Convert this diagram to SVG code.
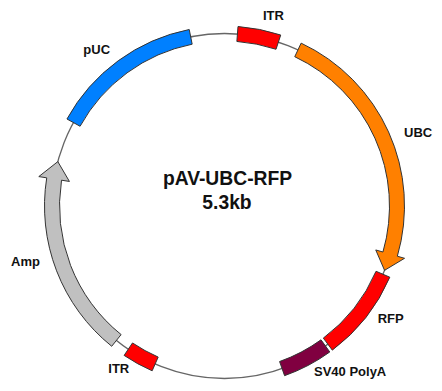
<svg xmlns="http://www.w3.org/2000/svg" width="442" height="391" viewBox="0 0 442 391">
<style>
.seg{stroke:#333;stroke-width:1;stroke-linejoin:miter}
.lbl{font-family:"Liberation Sans",Arial,sans-serif;font-weight:bold;font-size:13px;fill:#111}
.title{font-family:"Liberation Sans",Arial,sans-serif;font-weight:bold;font-size:19.3px;fill:#111;text-anchor:middle}
</style>
<rect width="442" height="391" fill="#fff"/>
<g id="connectors">
<circle cx="224.5" cy="206" r="172.5" fill="none" stroke="#666" stroke-width="1.3"/>
</g>
<g id="title">
<text class="title" x="227.5" y="184.5">pAV-UBC-RFP</text>
<text class="title" x="227" y="208.5">5.3kb</text>
</g>
<g id="ITR-top">
<path class="seg" fill="#FF0000" d="M238.0,26.51 A180,180 0 0 1 280.72,35.0 L276.04,49.25 A165,165 0 0 0 236.87,41.46 Z"/>
<text class="lbl" x="263" y="20">ITR</text>
</g>
<g id="UBC">
<path class="seg" fill="#FF8000" d="M301.14,43.13 A180,180 0 0 1 397.35,256.22 L404.55,258.31 L384.55,270.34 L375.75,249.94 L382.95,252.03 A165,165 0 0 0 294.75,56.70 Z"/>
<text class="lbl" x="404" y="137.3">UBC</text>
</g>
<g id="RFP">
<path class="seg" fill="#FF0000" d="M389.82,277.20 A180,180 0 0 1 332.32,350.13 L323.34,338.12 A165,165 0 0 0 376.04,271.27 Z"/>
<text class="lbl" x="377.7" y="323.3">RFP</text>
</g>
<g id="SV40-PolyA">
<path class="seg" fill="#800040" d="M329.79,351.99 A180,180 0 0 1 284.59,375.68 L279.58,361.54 A165,165 0 0 0 321.02,339.82 Z"/>
<text class="lbl" x="314" y="376">SV40 PolyA</text>
</g>
<g id="ITR-bottom">
<path class="seg" fill="#FF0000" d="M152.15,370.82 A180,180 0 0 1 124.12,355.41 L132.49,342.96 A165,165 0 0 0 158.18,357.08 Z"/>
<text class="lbl" x="108.3" y="372.5">ITR</text>
</g>
<g id="Amp">
<path class="seg" fill="#C0C0C0" d="M111.71,346.28 A180,180 0 0 1 46.72,177.84 L38.81,176.59 L57.80,161.64 L69.43,181.44 L61.53,180.19 A165,165 0 0 0 121.11,334.59 Z"/>
<text class="lbl" x="11" y="266">Amp</text>
</g>
<g id="pUC">
<path class="seg" fill="#0080FF" d="M66.94,119.01 A180,180 0 0 1 189.23,29.49 L192.17,44.20 A165,165 0 0 0 80.07,126.26 Z"/>
<text class="lbl" x="83.3" y="54.3">pUC</text>
</g>
</svg>
